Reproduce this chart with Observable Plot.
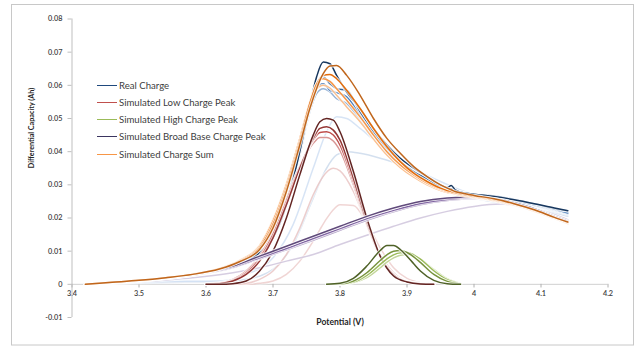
<!DOCTYPE html>
<html>
<head>
<meta charset="utf-8">
<script src="https://cdn.jsdelivr.net/npm/d3@7"></script>
<script src="https://cdn.jsdelivr.net/npm/@observablehq/plot@0.6"></script>
<style>
  body { margin: 0; background: #fff; }
  #wrap { position: relative; width: 637px; height: 346px; font-family: Lato, "Open Sans", sans-serif; }
  #legend { position: absolute; left: 97px; top: 78px; font-size: 9.6px; color: #404040; }
  .row { position: absolute; left: 0; height: 14px; display: flex; align-items: center; white-space: nowrap; }
  .sw { width: 20px; height: 0; border-top: 1.6px solid; margin-right: 2px; }
</style>
</head>
<body>
<div id="wrap"><div id="legend"></div></div>
<script>
// ---- axis ticks ----
const xTicks = [3.4, 3.5, 3.6, 3.7, 3.8, 3.9, 4.0, 4.1, 4.2];
const yTicks = [-0.01, 0, 0.01, 0.02, 0.03, 0.04, 0.05, 0.06, 0.07, 0.08];

// ---- legend ----
const seriesNames = ["Real Charge", "Simulated Low Charge Peak", "Simulated High Charge Peak", "Simulated Broad Base Charge Peak", "Simulated Charge Sum"];
const seriesColors = ["#1f497d", "#c0504d", "#9bbb59", "#3b3560", "#f79646"];

// ---- potential grids (V) ----
const gridMain = [3.42, 3.46, 3.50, 3.54, 3.58, 3.62, 3.65, 3.68, 3.70, 3.72, 3.74, 3.755, 3.765, 3.775, 3.785, 3.795, 3.81, 3.83, 3.85, 3.87, 3.89, 3.91, 3.93, 3.95, 3.96, 3.966, 3.972, 3.98, 4.00, 4.03, 4.06, 4.09, 4.12, 4.14];
const gridLow = [3.60, 3.62, 3.64, 3.66, 3.68, 3.70, 3.72, 3.74, 3.76, 3.77, 3.78, 3.79, 3.80, 3.82, 3.84, 3.86, 3.88, 3.90, 3.92, 3.94];
const gridHigh = [3.78, 3.80, 3.82, 3.84, 3.86, 3.87, 3.88, 3.89, 3.90, 3.91, 3.92, 3.94, 3.96, 3.98];
const gridBroad = [3.42, 3.50, 3.58, 3.64, 3.68, 3.72, 3.76, 3.80, 3.84, 3.88, 3.92, 3.96, 4.00, 4.04, 4.08, 4.12, 4.14];
const gridFaint = [3.42, 3.52, 3.62, 3.66, 3.70, 3.73, 3.76, 3.78, 3.795, 3.81, 3.83, 3.86, 3.89, 3.92, 3.95, 4.00, 4.06, 4.14];

// ---- Real Charge (Ah) ----
const real1 = [0, 0.0006, 0.0012, 0.0019, 0.0029, 0.0043, 0.006, 0.0095, 0.014, 0.024, 0.040, 0.054, 0.0625, 0.067, 0.0665, 0.063, 0.058, 0.053, 0.047, 0.042, 0.038, 0.035, 0.0325, 0.030, 0.0292, 0.0298, 0.0285, 0.0278, 0.0272, 0.0265, 0.0255, 0.0243, 0.023, 0.0222];
const real2 = [0, 0.0006, 0.0012, 0.002, 0.003, 0.0045, 0.0063, 0.0098, 0.0145, 0.025, 0.041, 0.054, 0.0605, 0.0625, 0.0605, 0.059, 0.0585, 0.052, 0.046, 0.041, 0.037, 0.034, 0.0318, 0.0295, 0.029, 0.0288, 0.0283, 0.0278, 0.0272, 0.0266, 0.0256, 0.0243, 0.0228, 0.0222];
const real3 = [0, 0.0005, 0.0011, 0.0019, 0.0029, 0.0044, 0.0062, 0.0097, 0.0143, 0.0245, 0.040, 0.053, 0.059, 0.0605, 0.0585, 0.0578, 0.0565, 0.051, 0.0455, 0.0405, 0.0365, 0.0335, 0.031, 0.029, 0.0285, 0.0283, 0.028, 0.0276, 0.027, 0.0263, 0.0252, 0.024, 0.0226, 0.0215];
const real4 = [0, 0.0005, 0.001, 0.0018, 0.0028, 0.0042, 0.006, 0.0094, 0.014, 0.024, 0.039, 0.052, 0.0575, 0.059, 0.058, 0.056, 0.0545, 0.0495, 0.044, 0.0395, 0.036, 0.033, 0.0308, 0.0288, 0.0282, 0.028, 0.0277, 0.0273, 0.0267, 0.026, 0.025, 0.0238, 0.0224, 0.0213];
const realFaint1 = [0, 0.0008, 0.001, 0.003, 0.008, 0.018, 0.035, 0.046, 0.0505, 0.050, 0.047, 0.042, 0.038, 0.034, 0.031, 0.027, 0.025, 0.021];
const realFaint2 = [0, 0.0005, 0.0007, 0.0015, 0.0045, 0.012, 0.026, 0.035, 0.039, 0.040, 0.0395, 0.038, 0.036, 0.033, 0.030, 0.026, 0.024, 0.0205];

// ---- Simulated Low Charge Peak ----
const low1 = [0, 0, 0.0002, 0.001, 0.004, 0.010, 0.020, 0.033, 0.045, 0.049, 0.050, 0.0495, 0.046, 0.034, 0.020, 0.0085, 0.0025, 0.0007, 0.0001, 0];
const low2 = [0, 0.0002, 0.001, 0.003, 0.007, 0.014, 0.024, 0.035, 0.044, 0.047, 0.0475, 0.0465, 0.0435, 0.032, 0.019, 0.0085, 0.0028, 0.0008, 0.0002, 0];
const low3 = [0, 0.0003, 0.0012, 0.0035, 0.0078, 0.015, 0.025, 0.0355, 0.0435, 0.0458, 0.046, 0.045, 0.042, 0.031, 0.0185, 0.0083, 0.0028, 0.0008, 0.0002, 0];
const low4 = [0.0001, 0.0004, 0.0015, 0.004, 0.0085, 0.016, 0.0258, 0.0355, 0.0425, 0.0443, 0.0443, 0.0432, 0.0403, 0.030, 0.018, 0.0082, 0.0028, 0.0008, 0.0002, 0];
const lowFaint1 = [0, 0, 0, 0.0003, 0.0015, 0.004, 0.009, 0.017, 0.027, 0.031, 0.0338, 0.035, 0.0342, 0.028, 0.018, 0.009, 0.0035, 0.001, 0.0002, 0];
const lowFaint2 = [0, 0, 0, 0, 0.0003, 0.001, 0.003, 0.007, 0.013, 0.0165, 0.0198, 0.0225, 0.024, 0.0238, 0.0185, 0.011, 0.005, 0.0018, 0.0005, 0.0001];

// ---- Simulated High Charge Peak ----
const high1 = [0, 0.0003, 0.0018, 0.0055, 0.0102, 0.0117, 0.0117, 0.0105, 0.0085, 0.0062, 0.004, 0.0012, 0.0002, 0];
const high2 = [0, 0.0001, 0.001, 0.0035, 0.0072, 0.0089, 0.0100, 0.0102, 0.0096, 0.0083, 0.0066, 0.003, 0.0009, 0.0001];
const high3 = [0, 0.0001, 0.0007, 0.0027, 0.006, 0.0077, 0.0089, 0.0095, 0.0096, 0.0089, 0.0076, 0.0041, 0.0014, 0.0002];
const high4 = [0, 0, 0.0005, 0.002, 0.005, 0.0067, 0.008, 0.0088, 0.009, 0.0086, 0.0076, 0.0045, 0.0017, 0.0003];

// ---- Simulated Broad Base Charge Peak ----
const broad1 = [0, 0.0012, 0.003, 0.0055, 0.0085, 0.0115, 0.0145, 0.0175, 0.0205, 0.023, 0.025, 0.026, 0.0263, 0.0255, 0.0235, 0.0205, 0.019];
const broad2 = [0, 0.0011, 0.0028, 0.0052, 0.008, 0.0108, 0.0138, 0.0168, 0.0198, 0.0223, 0.0244, 0.0256, 0.026, 0.0253, 0.0233, 0.0204, 0.0189];
const broad3 = [0, 0.001, 0.0027, 0.005, 0.0077, 0.0104, 0.0133, 0.0163, 0.0193, 0.0219, 0.024, 0.0253, 0.0258, 0.0251, 0.0232, 0.0203, 0.0188];
const broad4 = [0, 0.0008, 0.002, 0.0035, 0.005, 0.007, 0.009, 0.012, 0.0148, 0.0175, 0.020, 0.022, 0.0235, 0.0242, 0.023, 0.021, 0.0195];

// ---- Simulated Charge Sum ----
const sum1 = [0, 0.0006, 0.0012, 0.002, 0.003, 0.0046, 0.0068, 0.0105, 0.017, 0.028, 0.042, 0.053, 0.059, 0.0635, 0.0658, 0.066, 0.063, 0.057, 0.050, 0.044, 0.0395, 0.0355, 0.0325, 0.030, 0.029, 0.0285, 0.028, 0.0276, 0.0268, 0.0258, 0.0243, 0.0225, 0.0202, 0.0188];
const sum2 = [0, 0.0006, 0.0012, 0.002, 0.003, 0.0047, 0.007, 0.011, 0.018, 0.029, 0.043, 0.0545, 0.0603, 0.063, 0.0633, 0.062, 0.0585, 0.053, 0.047, 0.0415, 0.037, 0.0335, 0.031, 0.029, 0.0283, 0.028, 0.0277, 0.0273, 0.0266, 0.0256, 0.0242, 0.0224, 0.0202, 0.0187];
const sum3 = [0, 0.0006, 0.0012, 0.002, 0.0031, 0.0048, 0.0072, 0.0115, 0.019, 0.030, 0.044, 0.055, 0.0603, 0.062, 0.0612, 0.059, 0.0555, 0.0505, 0.045, 0.040, 0.036, 0.033, 0.0305, 0.0287, 0.028, 0.0277, 0.0275, 0.0271, 0.0264, 0.0254, 0.024, 0.0222, 0.02, 0.0185];
const sum4 = [0, 0.0006, 0.0012, 0.002, 0.0031, 0.0048, 0.0073, 0.0118, 0.0195, 0.0305, 0.044, 0.0545, 0.0588, 0.060, 0.0592, 0.057, 0.0535, 0.049, 0.0438, 0.039, 0.0352, 0.0323, 0.030, 0.0283, 0.0277, 0.0275, 0.0272, 0.0268, 0.0262, 0.0252, 0.0238, 0.022, 0.0198, 0.0183];

// curve list (drawing order) : grid, values, colour, opacity
const curves = [
  [gridFaint, realFaint2, "#b8cce4", 0.6],
  [gridFaint, realFaint1, "#c6d9f1", 0.7],
  [gridLow, lowFaint2, "#e6b9b8", 0.6],
  [gridLow, lowFaint1, "#e6b9b8", 0.7],
  [gridBroad, broad4, "#ccc1da", 0.8],
  [gridMain, real4, "#95b3d7", 1],
  [gridMain, real3, "#4f81bd", 1],
  [gridMain, real2, "#376092", 1],
  [gridMain, real1, "#17375e", 1],
  [gridLow, low4, "#d99694", 1],
  [gridLow, low3, "#c0504d", 1],
  [gridLow, low2, "#953735", 1],
  [gridLow, low1, "#632523", 1],
  [gridHigh, high4, "#c3d69b", 1],
  [gridHigh, high3, "#9bbb59", 1],
  [gridHigh, high2, "#77933c", 1],
  [gridHigh, high1, "#4f6228", 1],
  [gridBroad, broad3, "#b3a2c7", 1],
  [gridBroad, broad2, "#8064a2", 1],
  [gridBroad, broad1, "#604a7b", 1],
  [gridMain, sum4, "#fac090", 1],
  [gridMain, sum3, "#f79646", 1],
  [gridMain, sum2, "#e46c0a", 1],
  [gridMain, sum1, "#c0661c", 1]
];

const lineMarks = curves.flatMap(([grid, vals, color, op]) => {
  const data = grid.map((x, i) => ({x, y: vals[i]}));
  return [
    Plot.line(data, {x: "x", y: "y", curve: "monotone-x", stroke: "white", strokeWidth: 3.4, strokeOpacity: 0.75 * op}),
    Plot.line(data, {x: "x", y: "y", curve: "monotone-x", stroke: color, strokeWidth: 1.5, strokeOpacity: op})
  ];
});

const fmtY = d => d === 0 ? "0" : d.toFixed(2);

const chart = Plot.plot({
  width: 637,
  height: 346,
  marginLeft: 71.5,
  marginRight: 29.5,
  marginTop: 18.5,
  marginBottom: 29,
  x: {domain: [3.4, 4.2], axis: null},
  y: {domain: [-0.01, 0.08], axis: null},
  style: {fontFamily: "Lato, 'Open Sans', sans-serif", background: "white"},
  marks: [
    Plot.ruleY([0], {x1: 3.4, x2: 4.2, stroke: "#d0d0d0", strokeWidth: 1}),
    Plot.ruleX(xTicks, {x: d => d, y1: 0, y2: -0.0011, stroke: "#b0b0b0"}),
    Plot.text(xTicks, {x: d => d, y: 0, dy: 9, text: d => String(d), fontSize: 7.3, fill: "#404040", fontWeight: 600}),
    Plot.ruleX([3.4], {y1: -0.01, y2: 0.08, stroke: "#bfbfbf"}),
    Plot.axisY({ticks: yTicks, tickFormat: fmtY, tickSize: 4, tickPadding: 5.5, stroke: "#bfbfbf", fontSize: 7.3, color: "#404040", fontWeight: 600, label: null}),
    ...lineMarks,
    Plot.text(["Potential (V)"], {frameAnchor: "bottom", dy: 7.5, text: d => d, fontSize: 8.6, fontWeight: "bold", fill: "#262626"}),
    Plot.text(["Differential Capacity (Ah)"], {frameAnchor: "left", dx: -40, rotate: -90, text: d => d, fontSize: 7.2, fontWeight: "bold", fill: "#262626"})
  ]
});

d3.select(chart).append("rect")
  .attr("x", 11.5).attr("y", 4.5).attr("width", 622).attr("height", 340.5)
  .attr("fill", "none").attr("stroke", "#c8c8c8");

const wrap = document.getElementById("wrap");
wrap.insertBefore(chart, wrap.firstChild);

const legend = document.getElementById("legend");
const rowY = [0, 17.2, 34.4, 51.8, 69];
seriesNames.forEach((name, i) => {
  const row = document.createElement("div");
  row.className = "row";
  row.style.top = rowY[i] + "px";
  const sw = document.createElement("div");
  sw.className = "sw";
  sw.style.borderTopColor = seriesColors[i];
  const t = document.createElement("span");
  t.textContent = name;
  row.appendChild(sw);
  row.appendChild(t);
  legend.appendChild(row);
});
</script>
</body>
</html>
